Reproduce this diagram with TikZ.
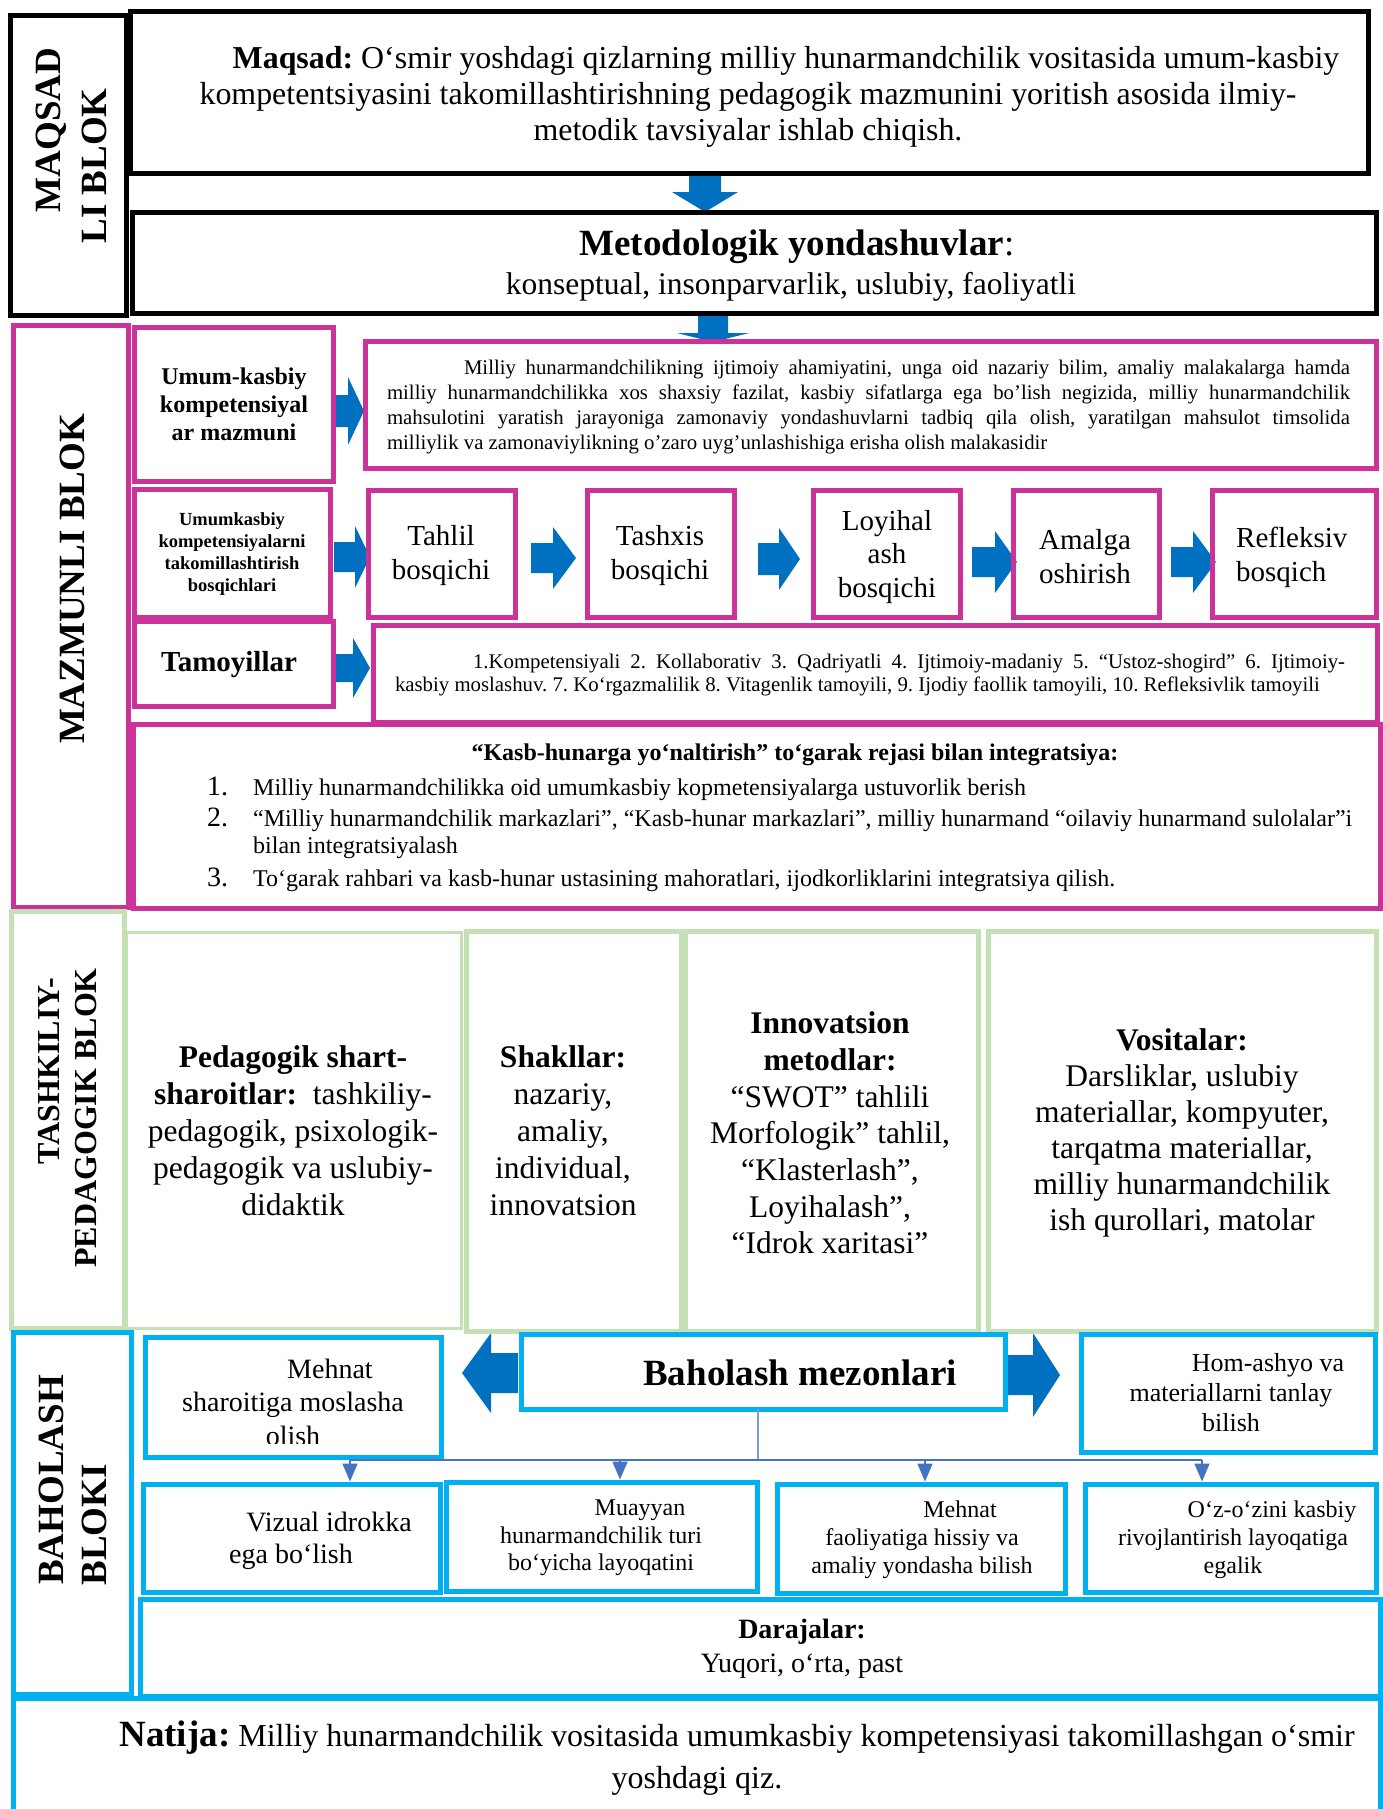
\documentclass[tikz,border=0pt]{standalone}
\usepackage{fontspec}
\setmainfont{Liberation Serif}
\usetikzlibrary{fit,arrows.meta}
\definecolor{pinkc}{RGB}{204,51,153}
\definecolor{greenc}{RGB}{197,224,180}
\definecolor{cyanc}{RGB}{0,176,240}
\definecolor{arrowc}{RGB}{0,112,192}
\definecolor{connc}{RGB}{68,114,196}
\frenchspacing
\newcommand\fs[2]{\fontsize{#1}{#2}\selectfont}
\newcommand\rarr[6]{\fill[arrowc] ({#1},{#4-#5}) -- ({#2},{#4-#5}) -- ({#2},{#4-#6}) -- ({#3},{#4}) -- ({#2},{#4+#6}) -- ({#2},{#4+#5}) -- ({#1},{#4+#5}) -- cycle;}
\newcommand\darr[6]{\fill[arrowc] ({#1-#5},{#2}) -- ({#1-#5},{#3}) -- ({#1-#6},{#3}) -- ({#1},{#4}) -- ({#1+#6},{#3}) -- ({#1+#5},{#3}) -- ({#1+#5},{#2}) -- cycle;}
\begin{document}
\begin{tikzpicture}[x=1pt,y=-1pt,
  frame/.style={draw, line width=5pt, inner sep=0pt, outer sep=0pt},
  blk/.style={frame, draw=black},
  pnk/.style={frame, draw=pinkc},
  grn/.style={frame, draw=greenc},
  grnthin/.style={frame, draw=greenc, line width=3pt},
  cyn/.style={frame, draw=cyanc},
  txt/.style={inner sep=0pt, align=center, text=black, execute at begin node=\frenchspacing},
  lbl/.style={inner sep=0pt, rotate=90, font=\fs{37}{40}\bfseries},
  conn/.style={draw=connc, line width=1.5pt},
  connarrow/.style={conn, -{Triangle[width=15pt,length=18pt]}}]
\useasboundingbox (0,0) rectangle (1383,1809);
\fill[white] (0,0) rectangle (1383,1809);

% ---------- block arrows ----------
\darr{705}{175}{192}{212}{16}{33}
\darr{713}{316}{333}{342}{15}{36}
\rarr{334}{348}{364}{411}{16}{34}
\rarr{334}{355}{370}{557}{15}{31}
\rarr{531}{553}{576}{558}{15}{31}
\rarr{758}{779}{800}{559}{16}{31}
\rarr{972}{995}{1017}{562}{15}{31}
\rarr{1171}{1193}{1216}{562}{15}{31}
\rarr{333}{353}{370}{668}{14}{30}
\rarr{518}{491}{462}{1373}{20}{40}
\rarr{1006}{1033}{1060}{1375}{20}{42}

% ---------- MAQSAD block ----------
\node[blk, fit={(10,16) (126,315)}] (lblM) {};
\node[blk, fit={(130,12) (1368,173)}] (maq) {};
\node[blk, fit={(132,212) (1376,313)}] (met) {};
\node[lbl] (labM1) at (51,130) {MAQSAD};
\node[lbl] (labM2) at (94,166) {LI BLOK};
\node[txt, font=\fs{31.9}{36}] (maqT) at (748,97)
 {\hspace*{76pt}\textbf{Maqsad:} O‘smir yoshdagi qizlarning milliy hunarmandchilik vositasida umum-kasbiy\\
  kompetentsiyasini takomillashtirishning pedagogik mazmunini yoritish asosida ilmiy-\\
  metodik tavsiyalar ishlab chiqish.};
\node[txt, font=\fs{37}{40}\bfseries] (metT1) at (797,247) {Metodologik yondashuvlar{\mdseries :}};
\node[txt, font=\fs{31.5}{36}] (metT2) at (791,287) {konseptual, insonparvarlik, uslubiy, faoliyatli};

% ---------- MAZMUNLI block ----------
\node[pnk, fit={(13,325) (128,907)}] (lblZ) {};
\node[lbl] (labZ) at (72,579) {MAZMUNLI BLOK};
\node[pnk, fit={(134,327) (333,481)}] (umk) {};
\node[pnk, fit={(365,341) (1376,468)}] (umkP) {};
\node[pnk, fit={(134,489) (330,617)}] (bosq) {};
\node[pnk, fit={(368,490) (515,617)}] (tahlil) {};
\node[pnk, fit={(587,490) (734,617)}] (tashxis) {};
\node[pnk, fit={(813,490) (960,617)}] (loyih) {};
\node[pnk, fit={(1013,490) (1159,617)}] (amalga) {};
\node[pnk, fit={(1212,490) (1376,617)}] (refl) {};
\node[pnk, fit={(134,621) (333,706)}] (tamoy) {};
\node[pnk, fit={(373,625) (1377,722)}] (prin) {};
\node[pnk, fit={(133,724) (1380,908)}] (kasb) {};

\node[txt, font=\fs{24}{28}\bfseries] (umkT) at (234,404) {Umum-kasbiy\\kompetensiyal\\ar mazmuni};
\node[txt, text width=963pt, align=justify, font=\fs{20.8}{24.7}] (umkPT) at (868.5,407)
 {\tolerance=10000\hspace*{77pt}Milliy hunarmandchilikning ijtimoiy ahamiyatini, unga oid nazariy bilim, amaliy malakalarga hamda\linebreak
  milliy hunarmandchilikka xos shaxsiy fazilat, kasbiy sifatlarga ega bo’lish negizida, milliy hunarmandchilik\linebreak
  mahsulotini yaratish jarayoniga zamonaviy yondashuvlarni tadbiq qila olish, yaratilgan mahsulot timsolida\linebreak
  milliylik va zamonaviylikning o’zaro uyg’unlashishiga erisha olish malakasidir};
\node[txt, font=\fs{18.5}{21.7}\bfseries] (bosT) at (232,554) {Umumkasbiy\\kompetensiyalarni\\takomillashtirish\\bosqichlari};
\node[txt, font=\fs{29}{34}] (tahT) at (441,556) {Tahlil\\bosqichi};
\node[txt, font=\fs{29}{34}] (tasT) at (660,556) {Tashxis\\bosqichi};
\node[txt, font=\fs{29}{33.5}] (loyT) at (887,557) {Loyihal\\ash\\bosqichi};
\node[txt, font=\fs{29}{34}] (amaT) at (1085,557) {Amalga\\oshirish};
\node[txt, font=\fs{29}{34}, align=left, anchor=west] (refT) at (1236,557) {Refleksiv\\bosqich};
\node[txt, font=\fs{29}{34}\bfseries] (tamT) at (229,665) {Tamoyillar};
\node[txt, text width=950pt, align=justify, font=\fs{20.8}{23.5}] (prinT) at (870,675)
 {\tolerance=10000\hspace*{78pt}1.Kompetensiyali 2. Kollaborativ 3. Qadriyatli 4. Ijtimoiy-madaniy 5. “Ustoz-shogird” 6. Ijtimoiy-\linebreak
  kasbiy moslashuv. 7. Ko‘rgazmalilik 8. Vitagenlik tamoyili, 9. Ijodiy faollik tamoyili, 10. Refleksivlik tamoyili};
\node[txt, font=\fs{24}{28}\bfseries] (kasbT) at (795,755) {“Kasb-hunarga yo‘naltirish” to‘garak rejasi bilan integratsiya:};
\node[txt, font=\fs{28}{30}, anchor=base west] (n1) at (207,795) {1.};
\node[txt, font=\fs{24}{28}, anchor=base west] (i1) at (253,795) {Milliy hunarmandchilikka oid umumkasbiy kopmetensiyalarga ustuvorlik berish};
\node[txt, font=\fs{28}{30}, anchor=base west] (n2) at (207,826) {2.};
\node[txt, font=\fs{24}{28}, anchor=base west] (i2) at (253,826) {“Milliy hunarmandchilik markazlari”, “Kasb-hunar markazlari”, milliy hunarmand “oilaviy hunarmand sulolalar”i};
\node[txt, font=\fs{24}{28}, anchor=base west] (i2b) at (253,853) {bilan integratsiyalash};
\node[txt, font=\fs{28}{30}, anchor=base west] (n3) at (207,886) {3.};
\node[txt, font=\fs{24}{28}, anchor=base west] (i3) at (253,886) {To‘garak rahbari va kasb-hunar ustasining mahoratlari, ijodkorliklarini integratsiya qilish.};

% ---------- TASHKILIY block ----------
\node[grn, fit={(11,911) (124,1328)}] (lblT) {};
\node[lbl, font=\fs{32}{36}\bfseries] (labT1) at (49,1071) {TASHKILIY-};
\node[lbl, font=\fs{32}{36}\bfseries] (labT2) at (86,1118) {PEDAGOGIK BLOK};
\node[grnthin, fit={(126,932) (461,1328)}] (ped) {};
\node[grn, fit={(466,931) (681,1331)}] (shak) {};
\node[grn, fit={(685,931) (978,1331)}] (innov) {};
\node[grn, fit={(988,931) (1376,1331)}] (vosit) {};
\node[txt, font=\fs{31.5}{37}] (pedT) at (293,1131)
 {\textbf{Pedagogik shart-}\\\textbf{sharoitlar:}\ \ tashkiliy-\\pedagogik, psixologik-\\pedagogik va uslubiy-\\didaktik};
\node[txt, font=\fs{31.5}{37}] (shakT) at (563,1131)
 {\textbf{Shakllar:}\\nazariy,\\amaliy,\\individual,\\innovatsion};
\node[txt, font=\fs{31.5}{36.7}] (innT) at (830,1133)
 {\textbf{Innovatsion}\\\textbf{metodlar:}\\“SWOT” tahlili\\Morfologik” tahlil,\\“Klasterlash”,\\Loyihalash”,\\“Idrok xaritasi”};
\node[txt, font=\fs{31.5}{36}] (vosT) at (1182,1133)
 {\textbf{Vositalar:}\\Darsliklar, uslubiy\\materiallar, kompyuter,\\tarqatma materiallar,\\milliy hunarmandchilik\\ish qurollari, matolar};

% ---------- BAHOLASH block ----------
\node[cyn, fit={(13,1332) (131,1694)}] (lblB) {};
\node[lbl] (labB1) at (51,1480) {BAHOLASH};
\node[lbl] (labB2) at (94,1525) {BLOKI};
\node[cyn, fit={(145,1337) (441,1457)}] (mehS) {};
\node[cyn, fit={(521,1334) (1005,1409)}] (bahM) {};
\node[cyn, fit={(1081,1334) (1375,1452)}] (hom) {};
\node[cyn, fit={(143,1484) (440,1592)}] (viz) {};
\node[cyn, fit={(446,1482) (757,1591)}] (muay) {};
\node[cyn, fit={(777,1484) (1065,1593)}] (mehF) {};
\node[cyn, fit={(1085,1484) (1376,1592)}] (ozo) {};
\node[cyn, fit={(140,1599) (1380,1696)}] (daraj) {};
\node[cyn, fit={(13,1698) (1380,1830)}] (natija) {};

\begin{scope}
\clip (148,1340) rectangle (438,1443);
\node[txt, font=\fs{28}{33.5}] (mehST) at (293,1402) {\hspace*{74pt}Mehnat\\sharoitiga moslasha\\olish};
\end{scope}
\node[txt, font=\fs{37}{40}\bfseries] (bahT) at (800,1373) {Baholash mezonlari};
\node[txt, font=\fs{26}{30}] (homT) at (1231,1393) {\hspace*{74pt}Hom-ashyo va\\materiallarni tanlay\\bilish};
\node[txt, font=\fs{28}{32}] (vizT) at (291,1541) {\hspace*{76pt}Vizual idrokka\\ega bo‘lish};
\node[txt, font=\fs{24}{27.5}] (muaT) at (601,1538) {\hspace*{78pt}Muayyan\\hunarmandchilik turi\\bo‘yicha layoqatini};
\node[txt, font=\fs{24}{28}] (mefT) at (922,1540) {\hspace*{76pt}Mehnat\\faoliyatiga hissiy va\\amaliy yondasha bilish};
\node[txt, font=\fs{24}{28}] (ozoT) at (1233,1540) {\hspace*{78pt}O‘z-o‘zini kasbiy\\rivojlantirish layoqatiga\\egalik};
\node[txt, font=\fs{28}{34}] (darT) at (802,1649) {\textbf{Darajalar:}\\Yuqori, o‘rta, past};
\node[txt, font=\fs{32}{42}] (natT) at (697,1758)
 {\hspace*{80pt}{\fs{37}{42}\bfseries Natija:} Milliy hunarmandchilik vositasida umumkasbiy kompetensiyasi takomillashgan o‘smir\\yoshdagi qiz.};

% ---------- connectors ----------
\coordinate (hub) at (758,1460);
\coordinate (j1) at (350,1460);
\coordinate (j2) at (620,1460);
\coordinate (j3) at (925,1460);
\coordinate (j4) at (1202,1460);
\draw[conn, draw=connc!70] (bahM.south -| hub) -- (hub);
\draw[conn] (j1) -- (j4);
\draw[connarrow] (j1) -- ([yshift=2.5pt]j1 |- viz.north);
\draw[connarrow] (j2) -- ([yshift=2.5pt]j2 |- muay.north);
\draw[connarrow] (j3) -- ([yshift=2.5pt]j3 |- mehF.north);
\draw[connarrow] (j4) -- ([yshift=2.5pt]j4 |- ozo.north);
\end{tikzpicture}
\end{document}
